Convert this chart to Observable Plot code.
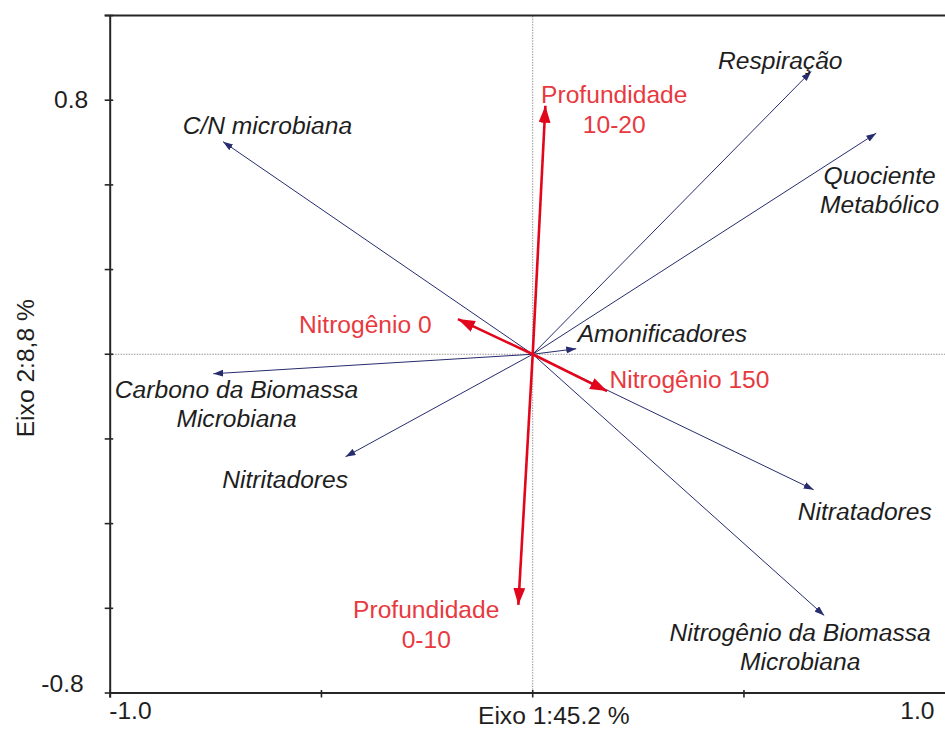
<!DOCTYPE html>
<html><head><meta charset="utf-8">
<script src="https://cdn.jsdelivr.net/npm/d3@7"></script>
<script src="https://cdn.jsdelivr.net/npm/@observablehq/plot@0.6"></script>
<style>body{margin:0;background:#fff} #chart svg{display:block}</style>
</head><body><div id="chart"></div>
<script>
// Response variables (blue arrows)
const speciesNames = ["Respiração", "Quociente\nMetabólico", "C/N microbiana", "Carbono da Biomassa\nMicrobiana", "Nitritadores", "Amonificadores", "Nitratadores", "Nitrogênio da Biomassa\nMicrobiana"];
const speciesX = [0.659, 0.813, -0.733, -0.756, -0.443, 0.103, 0.665, 0.690];
const speciesY = [0.668, 0.522, 0.502, -0.046, -0.242, 0.013, -0.320, -0.617];
const speciesLabelX = [0.586, 0.821, -0.628, -0.701, -0.586, 0.307, 0.786, 0.633];
const speciesLabelY = [0.695, 0.390, 0.542, -0.115, -0.293, 0.050, -0.370, -0.690];

// Explanatory variables (red arrows)
const envNames = ["Profundidade\n10-20", "Profundidade\n0-10", "Nitrogênio 0", "Nitrogênio 150"];
const envX = [0.030, -0.034, -0.177, 0.176];
const envY = [0.587, -0.592, 0.083, -0.087];
const envLabelX = [0.193, -0.252, -0.396, 0.371];
const envLabelY = [0.580, -0.635, 0.074, -0.056];

// Axes
const xDomain = [-1, 0.977];
const yDomain = [-0.8, 0.8];
const xTicks = [-1, -0.5, 0, 0.5];
const yTicks = [-0.8, -0.6, -0.4, -0.2, 0, 0.2, 0.4, 0.6, 0.8];
const xTickLabels = ["-1.0", "1.0"];
const yTickLabels = ["0.8", "-0.8"];
const xTitle = "Eixo 1:45.2 %";
const yTitle = "Eixo 2:8,8 %";

const W = 945, H = 729;
const mL = 109.7, mR = 0, mT = 15, mB = 36.5;
const pxX = (W - mL - mR) / (xDomain[1] - xDomain[0]);
const pxY = (H - mT - mB) / (yDomain[1] - yDomain[0]);

const species = speciesNames.map((n, i) => ({name: n, x: speciesX[i], y: speciesY[i], lx: speciesLabelX[i], ly: speciesLabelY[i]}));
const env = envNames.map((n, i) => ({name: n, x: envX[i], y: envY[i], lx: envLabelX[i], ly: envLabelY[i]}));

const BLUE = "#262c6e", RED = "#e2061c", REDTXT = "#e8393f", INK = "#1e1e1e", AXIS = "#262626";
const FONT = "Liberation Sans, Arial, Helvetica, sans-serif";
const FS = 24.6;

function headMarker(len, wid) {
  return (color, context) => {
    const doc = (context && context.document) || document;
    const ns = "http://www.w3.org/2000/svg";
    const m = doc.createElementNS(ns, "marker");
    m.setAttribute("viewBox", `0 ${-wid / 2} ${len} ${wid}`);
    m.setAttribute("refX", len);
    m.setAttribute("refY", 0);
    m.setAttribute("markerWidth", len);
    m.setAttribute("markerHeight", wid);
    m.setAttribute("markerUnits", "userSpaceOnUse");
    m.setAttribute("orient", "auto");
    const p = doc.createElementNS(ns, "path");
    p.setAttribute("d", `M0,${-wid / 2}L${len},0L0,${wid / 2}Z`);
    p.setAttribute("fill", color);
    p.setAttribute("stroke", "none");
    m.appendChild(p);
    return m;
  };
}

function build(useFn) {
  const blueHead = useFn ? headMarker(10, 7) : "arrow";
  const redHead = useFn ? headMarker(17, 12) : "arrow";
  return Plot.plot({
    width: W, height: H,
    marginLeft: mL, marginRight: mR, marginTop: mT, marginBottom: mB,
    style: {fontFamily: FONT, fontSize: FS + "px", background: "#fff", overflow: "visible"},
    x: {domain: xDomain, axis: null},
    y: {domain: yDomain, axis: null},
    marks: [
      // zero reference lines
      Plot.ruleY([0], {x1: xDomain[0], x2: xDomain[1], stroke: "#8a8a8a", strokeWidth: 0.9, strokeDasharray: "1.5,1.2"}),
      Plot.ruleX([0], {y1: yDomain[0], y2: yDomain[1], stroke: "#8a8a8a", strokeWidth: 0.9, strokeDasharray: "1.5,1.2"}),
      // frame
      Plot.ruleX([xDomain[0]], {y1: yDomain[0] - 5 / pxY, y2: yDomain[1], stroke: AXIS, strokeWidth: 2}),
      Plot.ruleY([yDomain[0]], {x1: xDomain[0], x2: xDomain[1], stroke: AXIS, strokeWidth: 2}),
      Plot.ruleY([yDomain[1]], {x1: xDomain[0] - 5 / pxX, x2: xDomain[1], stroke: AXIS, strokeWidth: 2}),
      // ticks crossing the axes
      Plot.ruleY(yTicks, {x1: xDomain[0] - 5 / pxX, x2: xDomain[0] + 3.5 / pxX, stroke: AXIS, strokeWidth: 1.6}),
      Plot.ruleX(xTicks, {y1: yDomain[0] - 5 / pxY, y2: yDomain[0] + 2.5 / pxY, stroke: AXIS, strokeWidth: 1.6}),
      // tick labels (placed where the reference prints them)
      Plot.text([yTickLabels[0]], {x: xDomain[0], y: yTicks[7], text: d => d, textAnchor: "end", dx: -22, fill: INK, fontSize: FS}),
      Plot.text([yTickLabels[1]], {x: xDomain[0], y: yTicks[0], text: d => d, textAnchor: "end", dx: -26.5, dy: -8.5, fill: INK, fontSize: FS}),
      Plot.text([xTickLabels[0]], {x: xTicks[0], y: yDomain[0], text: d => d, textAnchor: "start", dx: -1, dy: 18.5, fill: INK, fontSize: FS}),
      Plot.text([xTickLabels[1]], {x: xDomain[1], y: yDomain[0], text: d => d, textAnchor: "end", dx: -11, dy: 18.5, fill: INK, fontSize: FS}),
      // axis titles
      Plot.text([xTitle], {frameAnchor: "bottom", text: d => d, textAnchor: "middle", lineAnchor: "middle", dx: 26, dy: 23.5, fill: INK, fontSize: FS}),
      Plot.text([yTitle], {frameAnchor: "left", text: d => d, rotate: -90, textAnchor: "middle", lineAnchor: "middle", dx: -84.4, dy: 14, fill: INK, fontSize: FS}),
      // arrows
      Plot.link(species, {x1: 0, y1: 0, x2: "x", y2: "y", stroke: BLUE, strokeWidth: 1, markerEnd: blueHead}),
      Plot.link(env, {x1: 0, y1: 0, x2: "x", y2: "y", stroke: RED, strokeWidth: 2.6, markerEnd: redHead}),
      // labels
      Plot.text(species, {x: "lx", y: "ly", text: "name", fill: INK, fontSize: FS, fontStyle: "italic", lineHeight: 1.18, textAnchor: "middle", lineAnchor: "middle"}),
      Plot.text(env, {x: "lx", y: "ly", text: "name", fill: REDTXT, fontSize: FS, lineHeight: 1.22, textAnchor: "middle", lineAnchor: "middle"}),
    ]
  });
}

let chart;
try { chart = build(true); } catch (e) { chart = build(false); }
document.getElementById("chart").appendChild(chart);
</script>
</body></html>
